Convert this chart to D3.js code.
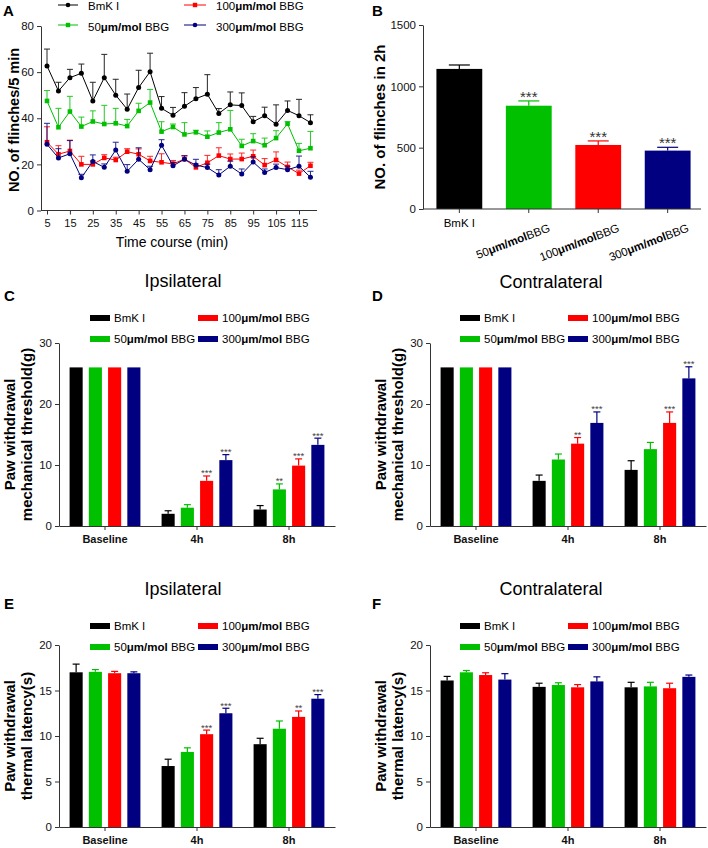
<!DOCTYPE html>
<html><head><meta charset="utf-8">
<script src="https://cdn.jsdelivr.net/npm/d3@7"></script>
<style>body{margin:0;background:#fff}svg{font-family:"Liberation Sans",Arial,sans-serif}text{white-space:pre}</style>
</head><body><svg id="c" width="708" height="848"></svg>
<script>
// ---------- DATA ----------
const timePoints = [5,10,15,20,25,30,35,40,45,50,55,60,65,70,75,80,85,90,95,100,105,110,115,120];
const xTickValues = [5,15,25,35,45,55,65,75,85,95,105,115];
const seriesNames = ["BmK I","50μm/mol BBG","100μm/mol BBG","300μm/mol BBG"];
const flinchBmK   = [62.7,51.8,57.6,59.5,47.5,57.6,50.0,43.9,53.3,60.2,44.3,41.3,45.2,48.5,50.4,42.1,45.8,45.5,38.5,41.1,37.4,43.4,41.1,38.1];
const flinchBmKSem= [7.3,3.8,3.6,4.0,8.1,10.1,6.9,6.6,7.5,8.0,5.1,3.4,5.9,4.8,8.5,2.1,5.6,5.5,2.3,3.7,8.4,4.1,7.1,3.4];
const flinch50    = [47.5,36.1,42.9,36.4,38.6,37.5,37.8,36.6,43.2,46.8,34.2,36.2,33.0,33.9,32.0,33.8,35.2,28.0,30.1,28.3,31.4,37.6,25.9,27.0];
const flinch50Sem = [4.5,8.2,6.6,4.1,4.6,8.1,6.5,2.9,3.3,5.7,4.3,1.3,5.1,0.9,2.5,4.3,8.2,2.9,3.2,3.1,3.2,0.9,3.2,7.3];
const flinch100   = [29.6,24.4,25.8,20.0,20.0,22.8,21.9,25.5,24.4,21.5,20.9,20.2,22.3,18.7,20.7,23.8,22.3,22.3,23.5,19.7,21.9,18.9,16.0,19.4];
const flinch100Sem= [6.7,3.7,4.7,3.5,1.5,1.4,1.2,1.3,2.3,2.0,3.7,1.5,1.5,1.5,3.2,3.4,2.2,2.6,2.7,2.8,3.5,2.1,1.5,1.5];
const flinch300   = [28.7,22.8,24.6,14.2,21.3,18.7,26.2,17.0,22.2,17.7,28.3,19.4,22.2,19.7,18.6,15.4,19.2,15.8,21.0,16.5,18.6,17.7,19.2,14.4];
const flinch300Sem= [9.1,4.0,5.7,1.5,2.8,1.5,3.4,2.9,5.0,1.5,2.4,1.5,1.5,2.5,1.5,2.3,2.2,2.2,2.3,1.5,1.5,1.5,4.4,2.6];

const totalCategories = ["BmK I","50μm/molBBG","100μm/molBBG","300μm/molBBG"];
const totalFlinches = [1142,842,522,476];
const totalSem = [32,39,33,27];
const totalStars = ["","***","***","***"];

const timeGroups = ["Baseline","4h","8h"];
const mechIpsiMean  = [[26,26,26,26],[2.0,3.0,7.4,10.8],[2.7,6.0,9.9,13.3]];
const mechIpsiSem   = [[0,0,0,0],[0.5,0.5,0.8,0.9],[0.65,0.9,1.1,1.1]];
const mechIpsiStars = [["","","",""],["","","***","***"],["","**","***","***"]];
const mechContraMean  = [[26,26,26,26],[7.4,10.9,13.5,16.9],[9.2,12.6,16.9,24.2]];
const mechContraSem   = [[0,0,0,0],[0.95,0.9,1.0,1.8],[1.5,1.1,1.8,1.9]];
const mechContraStars = [["","","",""],["","","**","***"],["","","***","***"]];
const thermIpsiMean  = [[17.0,17.05,16.9,16.9],[6.7,8.25,10.2,12.5],[9.1,10.8,12.1,14.1]];
const thermIpsiSem   = [[0.9,0.25,0.2,0.15],[0.75,0.45,0.45,0.55],[0.65,0.85,0.65,0.45]];
const thermIpsiStars = [["","","",""],["","","***","***"],["","","**","***"]];
const thermContraMean  = [[16.1,17.0,16.7,16.2],[15.4,15.6,15.35,16.0],[15.35,15.45,15.25,16.5]];
const thermContraSem   = [[0.45,0.2,0.25,0.65],[0.4,0.25,0.3,0.5],[0.55,0.45,0.55,0.2]];
const thermContraStars = [["","","",""],["","","",""],["","","",""]];
const mechTicks = [0,10,20,30];
const thermTicks = [0,5,10,15,20];
const flinchTicks = [0,20,40,60,80];
const totalTicks = [0,500,1000,1500];

// ---------- DRAWING ----------
const svg = d3.select("#c");
const colors = ["#000000","#00c000","#ff0000","#000080"];
const FONT = '"Liberation Sans",Arial,sans-serif';

function richLabel(sel, str) {
  const m = str.match(/^(\d+)(μm\/mol)(.*)$/);
  if (!m) { sel.text(str); return sel; }
  sel.append("tspan").text(m[1]);
  sel.append("tspan").attr("font-weight","bold").text(m[2]);
  sel.append("tspan").text(m[3]);
  return sel;
}
function styleAxis(g, fs, bold) {
  g.attr("font-family", FONT).attr("font-size", fs);
  g.selectAll("path,line").attr("stroke","#333");
  g.selectAll("text").attr("fill","#111").attr("font-weight", bold ? "bold" : null);
}
function letter(t, x, y) {
  svg.append("text").attr("x",x).attr("y",y).attr("font-size",15).attr("font-weight","bold").text(t);
}
function yLabel(lines, xs, cy, fs) {
  lines.forEach((l,i) => svg.append("text")
    .attr("transform",`translate(${xs[i]},${cy}) rotate(-90)`)
    .attr("text-anchor","middle").attr("font-size",fs||15).attr("font-weight","bold").text(l));
}

// ---- Panel A ----
(function(){
  const g = svg.append("g");
  const x = d3.scaleLinear().domain([5,115]).range([47,299]);
  const y = d3.scaleLinear().domain([0,80]).range([210.5,26]);
  g.append("g").attr("transform","translate(0,210.5)")
    .call(d3.axisBottom(x).tickValues(xTickValues).tickSize(4).tickSizeOuter(0))
    .call(a => { a.select(".domain").attr("d","M41,0H317"); a.selectAll("text").attr("y",8.2); styleAxis(a,11); });
  g.append("g").attr("transform","translate(41,0)")
    .call(d3.axisLeft(y).tickValues(flinchTicks).tickSize(4).tickSizeOuter(0))
    .call(a => styleAxis(a,11.5));
  const series = [[flinchBmK,flinchBmKSem],[flinch50,flinch50Sem],[flinch100,flinch100Sem],[flinch300,flinch300Sem]];
  const line = d3.line().x((d,i)=>x(timePoints[i])).y(d=>y(d));
  series.forEach(([m,e],si) => {
    const c = colors[si];
    const sg = g.append("g");
    const eg = sg.append("g").attr("stroke",c).attr("stroke-width",1).attr("opacity",0.85);
    m.forEach((v,i) => {
      const px = x(timePoints[i]), py = y(v), pt = y(v+e[i]);
      eg.append("line").attr("x1",px).attr("x2",px).attr("y1",py).attr("y2",pt);
      eg.append("line").attr("x1",px-3).attr("x2",px+3).attr("y1",pt).attr("y2",pt);
    });
    sg.append("path").datum(m).attr("d",line).attr("fill","none").attr("stroke",c).attr("stroke-width",1);
    m.forEach((v,i) => {
      const px = x(timePoints[i]), py = y(v);
      if (si===0 || si===3) sg.append("circle").attr("cx",px).attr("cy",py).attr("r",2.5).attr("fill",c);
      else sg.append("rect").attr("x",px-2.3).attr("y",py-2.3).attr("width",4.6).attr("height",4.6).attr("fill",c);
    });
  });
  // legend
  const leg = [[58,78,88,5,10],[58,78,88,25,30.5],[184,206,216,5,10],[184,206,216,25,30.5]];
  seriesNames.forEach((n,si) => {
    const [a,b,tx,ly,ty] = leg[si], c = colors[si];
    svg.append("line").attr("x1",a).attr("x2",b).attr("y1",ly).attr("y2",ly).attr("stroke",c);
    if (si===0||si===3) svg.append("circle").attr("cx",(a+b)/2).attr("cy",ly).attr("r",2.3).attr("fill",c);
    else svg.append("rect").attr("x",(a+b)/2-2.2).attr("y",ly-2.2).attr("width",4.4).attr("height",4.4).attr("fill",c);
    richLabel(svg.append("text").attr("x",tx).attr("y",ty).attr("font-size",11.5), n);
  });
  svg.append("text").attr("x",172).attr("y",247).attr("text-anchor","middle").attr("font-size",14).text("Time course (min)");
  yLabel(["NO. of flinches/5 min"],[19],120,14.5);
  letter("A",3,16);
})();

// ---- Panel B ----
(function(){
  const g = svg.append("g");
  const x = d3.scaleBand().domain(totalCategories).range([426,701]).paddingInner(0.34).paddingOuter(0.15);
  const y = d3.scaleLinear().domain([0,1500]).range([209,25]);
  g.selectAll("rect.bar").data(totalFlinches).join("rect")
    .attr("x",(d,i)=>x(totalCategories[i])).attr("width",x.bandwidth())
    .attr("y",d=>y(d)).attr("height",d=>y(0)-y(d)).attr("fill",(d,i)=>colors[i]);
  totalFlinches.forEach((v,i) => {
    const cx = x(totalCategories[i]) + x.bandwidth()/2, top = y(v+totalSem[i]), cw = 10.5;
    g.append("line").attr("x1",cx).attr("x2",cx).attr("y1",y(v)).attr("y2",top).attr("stroke",colors[i]).attr("stroke-width",1.2);
    g.append("line").attr("x1",cx-cw).attr("x2",cx+cw).attr("y1",top).attr("y2",top).attr("stroke",colors[i]).attr("stroke-width",1.2);
    if (totalStars[i]) g.append("text").attr("x",cx).attr("y",top+1).attr("text-anchor","middle").attr("font-size",15).attr("fill","#333").text(totalStars[i]);
  });
  g.append("g").attr("transform","translate(0,209)")
    .call(d3.axisBottom(x).tickSize(4).tickSizeOuter(0).tickFormat(""))
    .call(a => { a.select(".domain").attr("d","M423,0H701"); styleAxis(a,11); });
  g.append("g").attr("transform","translate(423,0)")
    .call(d3.axisLeft(y).tickValues(totalTicks).tickFormat(d3.format("d")).tickSize(4).tickSizeOuter(0))
    .call(a => styleAxis(a,11.5));
  totalCategories.forEach((n,i) => {
    const cx = x(n) + x.bandwidth()/2;
    if (i===0) g.append("text").attr("x",cx).attr("y",226.5).attr("text-anchor","middle").attr("font-size",11.5).text(n);
    else richLabel(g.append("text").attr("text-anchor","end").attr("font-size",11.5)
      .attr("transform",`translate(${cx+22},231) rotate(-21)`), n);
  });
  yLabel(["NO. of flinches in 2h"],[385],117);
  letter("B",372,16);
})();

// ---- Grouped bar panels ----
function groupedBars(o) {
  const g = svg.append("g");
  const x0 = d3.scaleBand().domain(timeGroups).range(o.xr);
  const x1 = d3.scaleBand().domain(d3.range(4)).range([0,x0.bandwidth()]).paddingInner(0.32).paddingOuter(0.55);
  const y = d3.scaleLinear().domain([0,o.ymax]).range([o.y0,o.y1]);
  const flat = [];
  o.means.forEach((row,gi) => row.forEach((v,si) => flat.push({g:timeGroups[gi],s:si,v,e:o.sems[gi][si],st:o.stars[gi][si]})));
  g.selectAll("rect.bar").data(flat).join("rect")
    .attr("x",d=>x0(d.g)+x1(d.s)).attr("width",x1.bandwidth())
    .attr("y",d=>y(d.v)).attr("height",d=>y(0)-y(d.v)).attr("fill",d=>colors[d.s]);
  flat.forEach(d => {
    const cx = x0(d.g)+x1(d.s)+x1.bandwidth()/2, top = y(d.v+d.e), cw = 3.5;
    if (d.e > 0) {
      g.append("line").attr("x1",cx).attr("x2",cx).attr("y1",y(d.v)).attr("y2",top).attr("stroke",colors[d.s]).attr("stroke-width",1.2);
      g.append("line").attr("x1",cx-cw).attr("x2",cx+cw).attr("y1",top).attr("y2",top).attr("stroke",colors[d.s]).attr("stroke-width",1.2);
    }
    if (d.st) g.append("text").attr("x",cx).attr("y",top+0.5).attr("text-anchor","middle").attr("font-size",9.5).attr("fill","#444").text(d.st);
  });
  g.append("g").attr("transform",`translate(0,${o.y0})`)
    .call(d3.axisBottom(x0).tickSize(4).tickSizeOuter(0))
    .call(a => { a.selectAll("text").attr("y",9.2); styleAxis(a,11,true); });
  g.append("g").attr("transform",`translate(${o.xr[0]},0)`)
    .call(d3.axisLeft(y).tickValues(o.ticks).tickSize(4).tickSizeOuter(0))
    .call(a => styleAxis(a,11.5));
  svg.append("text").attr("x",o.titleX).attr("y",o.titleY).attr("text-anchor","middle").attr("font-size",18).text(o.title);
  letter(o.letter,o.letterX,o.letterY);
  const lx = [o.legX,o.legX,o.legX+108,o.legX+108], ly = [o.legY,o.legY+21,o.legY,o.legY+21];
  seriesNames.forEach((n,si) => {
    svg.append("rect").attr("x",lx[si]).attr("y",ly[si]-3).attr("width",20).attr("height",6).attr("fill",colors[si]);
    richLabel(svg.append("text").attr("x",lx[si]+24).attr("y",ly[si]+4).attr("font-size",11.5), n);
  });
  yLabel(o.ylab, o.ylabX, (o.y0+o.y1)/2);
}

groupedBars({xr:[59,335],y0:526,y1:343,ymax:30,ticks:mechTicks,means:mechIpsiMean,sems:mechIpsiSem,stars:mechIpsiStars,
  title:"Ipsilateral",titleX:183,titleY:287,letter:"C",letterX:4,letterY:301,legX:90,legY:318,
  ylab:["Paw withdrawal","mechanical threshold(g)"],ylabX:[15,32]});
groupedBars({xr:[430,706],y0:526,y1:343,ymax:30,ticks:mechTicks,means:mechContraMean,sems:mechContraSem,stars:mechContraStars,
  title:"Contralateral",titleX:551,titleY:288,letter:"D",letterX:372,letterY:301,legX:460,legY:318,
  ylab:["Paw withdrawal","mechanical threshold(g)"],ylabX:[386,403]});
groupedBars({xr:[59,335],y0:827,y1:645,ymax:20,ticks:thermTicks,means:thermIpsiMean,sems:thermIpsiSem,stars:thermIpsiStars,
  title:"Ipsilateral",titleX:183,titleY:595,letter:"E",letterX:4,letterY:609,legX:90,legY:626,
  ylab:["Paw withdrawal","thermal latency(s)"],ylabX:[15,32]});
groupedBars({xr:[430,706],y0:827,y1:645,ymax:20,ticks:thermTicks,means:thermContraMean,sems:thermContraSem,stars:thermContraStars,
  title:"Contralateral",titleX:551,titleY:595,letter:"F",letterX:372,letterY:609,legX:460,legY:626,
  ylab:["Paw withdrawal","thermal latency(s)"],ylabX:[386,403]});
</script></body></html>
